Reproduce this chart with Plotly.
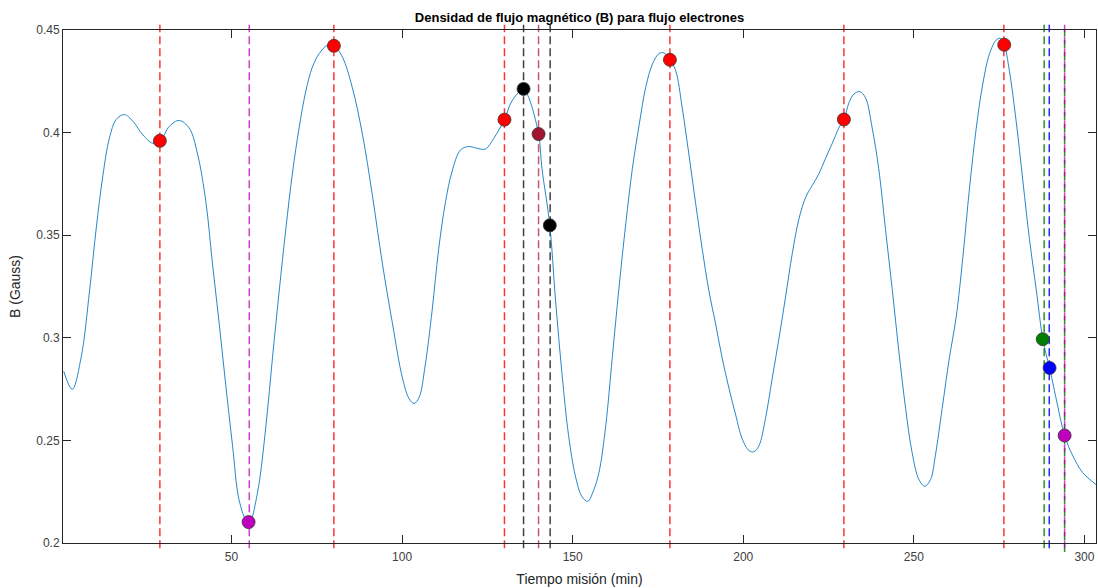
import plotly.graph_objects as go

# Curve: time (min) and B (Gauss)
t_min = [0.8, 3.3, 5.9, 8.4, 10.3, 12.3, 14.2, 16.2, 18.6, 21.1, 24.0, 26.9, 29.0, 31.8, 34.7,
         37.6, 40.1, 42.5, 44.4, 46.4, 48.3, 50.3, 52.2, 54.5, 55.2, 57.6, 60.1, 62.0, 64.0,
         65.9, 67.9, 69.8, 71.8, 73.7, 75.7, 78.1, 80.0, 82.5, 85.4, 88.4, 91.3, 94.2, 97.2,
         100.1, 102.0, 103.5, 105.0, 106.8, 108.8, 110.7, 112.7, 114.6, 117.1, 119.5, 121.9,
         124.4, 126.9, 130.0, 132.2, 135.6, 137.1, 140.0, 141.0, 143.3, 144.9, 146.9, 148.8,
         150.8, 152.7, 154.4, 156.2, 157.7, 159.7, 161.6, 163.6, 165.6, 167.5, 169.5, 171.4,
         173.4, 175.3, 176.8, 178.5, 180.2, 182.1, 184.1, 186.0, 188.0, 189.9, 191.9, 193.8,
         195.8, 197.8, 199.7, 201.7, 203.1, 204.6, 206.5, 208.5, 210.4, 212.4, 214.4, 216.3,
         218.3, 220.2, 222.2, 224.1, 226.1, 228.0, 229.5, 231.0, 232.4, 234.1, 235.8, 237.8,
         239.7, 241.7, 243.7, 245.6, 247.6, 249.5, 251.5, 253.2, 254.9, 256.3, 258.3, 260.4,
         262.4, 264.4, 266.3, 268.3, 270.2, 272.2, 274.1, 275.3, 276.5, 278.0, 280.0, 282.0,
         283.9, 285.9, 287.8, 288.8, 289.8, 291.7, 294.2, 296.6, 299.5, 303.4]
b_gauss = [0.2837, 0.2749, 0.2903, 0.3232, 0.3528, 0.3792, 0.3973, 0.4064, 0.4088, 0.4055,
           0.3989, 0.3948, 0.3957, 0.4031, 0.4059, 0.4022, 0.3891, 0.3660, 0.3364, 0.3067,
           0.2771, 0.2474, 0.2211, 0.2100, 0.2092, 0.2244, 0.2573, 0.2903, 0.3232, 0.3528,
           0.3808, 0.4022, 0.4204, 0.4319, 0.4385, 0.4426, 0.4426, 0.4368, 0.4220, 0.3989,
           0.3693, 0.3364, 0.3067, 0.2804, 0.2705, 0.2680, 0.2710, 0.2870, 0.3133, 0.3430,
           0.3660, 0.3808, 0.3915, 0.3932, 0.3924, 0.3920, 0.3973, 0.4064, 0.4154, 0.4212,
           0.4171, 0.3993, 0.3825, 0.3548, 0.3199, 0.2820, 0.2524, 0.2326, 0.2227, 0.2203,
           0.2260, 0.2343, 0.2573, 0.2903, 0.3248, 0.3561, 0.3825, 0.4039, 0.4220, 0.4335,
           0.4385, 0.4388, 0.4357, 0.4302, 0.4121, 0.3890, 0.3660, 0.3430, 0.3232, 0.3067,
           0.2903, 0.2755, 0.2623, 0.2507, 0.2450, 0.2445, 0.2474, 0.2606, 0.2804, 0.2990,
           0.3199, 0.3414, 0.3578, 0.3685, 0.3742, 0.3800, 0.3874, 0.3948, 0.4022, 0.4064,
           0.4146, 0.4187, 0.4200, 0.4171, 0.4022, 0.3825, 0.3528, 0.3232, 0.2935, 0.2655,
           0.2440, 0.2309, 0.2277, 0.2309, 0.2425, 0.2655, 0.2900, 0.3100, 0.3397, 0.3726,
           0.4022, 0.4236, 0.4385, 0.4450, 0.4460, 0.4428, 0.4302, 0.4055, 0.3759, 0.3480,
           0.3232, 0.2993, 0.2919, 0.2853, 0.2705, 0.2524, 0.2425, 0.2343, 0.2285]

# Event markers (time, B) and vertical event lines by colour
red_t = [29.0, 80.0, 130.0, 178.5, 229.5, 276.5]
red_b = [0.3960, 0.4423, 0.4063, 0.4355, 0.4064, 0.4428]
mag_t = [55.0, 294.2]
mag_b = [0.2102, 0.2524]
blk_t = [135.6, 143.3]
blk_b = [0.4213, 0.3548]
dred_t = [140.0]
dred_b = [0.3993]
grn_t = [287.8]
grn_b = [0.2993]
blu_t = [289.8]
blu_b = [0.2853]

red_lines = [29.0, 80.0, 130.0, 178.5, 229.5, 276.4]
mag_lines = [55.2, 294.2]
blk_lines = [135.6, 143.4]
dred_lines = [140.0]
grn_lines = [288.2, 294.2]
blu_lines = [289.7]

x_ticks = [50, 100, 150, 200, 250, 300]
y_ticks = [0.2, 0.25, 0.3, 0.35, 0.4, 0.45]

fig = go.Figure()

shapes = []
def vlines(xs, color, y0=-0.01, y1=1.01):
    for xv in xs:
        shapes.append(dict(type="line", xref="x", yref="paper", x0=xv, x1=xv, y0=y0, y1=y1,
                           line=dict(color=color, width=1.5, dash="8px,4px"), layer="below"))

vlines(red_lines, "rgba(255,0,0,0.8)")
vlines(blk_lines, "rgba(0,0,0,0.75)")
vlines(dred_lines, "rgba(162,20,47,0.7)")
vlines([grn_lines[0]], "rgba(0,128,0,0.85)")
vlines([grn_lines[1]], "rgba(0,128,0,0.85)", y0=-0.0175, y1=1.0)
vlines(blu_lines, "rgba(0,0,255,0.85)")
vlines(mag_lines, "rgba(191,0,191,0.75)")

fig.add_trace(go.Scatter(x=t_min, y=b_gauss, mode="lines",
                         line=dict(color="rgba(0,114,189,0.85)", width=1.0, shape="spline", smoothing=1.0),
                         showlegend=False, hoverinfo="skip"))

def markers(xs, ys, color):
    fig.add_trace(go.Scatter(x=xs, y=ys, mode="markers",
                             marker=dict(size=13, color=color, line=dict(color="#333333", width=0.8)),
                             showlegend=False, cliponaxis=False))

markers(red_t, red_b, "#FF0000")
markers(mag_t, mag_b, "#BF00BF")
markers(blk_t, blk_b, "#000000")
markers(dred_t, dred_b, "#A2142F")
markers(grn_t, grn_b, "#007F00")
markers(blu_t, blu_b, "#0000FF")

axis_common = dict(showline=True, linecolor="#262626", linewidth=1, mirror="ticks",
                   ticks="inside", ticklen=8, tickcolor="#262626", tickwidth=1,
                   showgrid=False, zeroline=False,
                   tickfont=dict(family="Liberation Sans, Arial, sans-serif", size=12, color="#404040"))

fig.update_layout(
    width=1098, height=588,
    margin=dict(l=63, r=2, t=30, b=45),
    paper_bgcolor="white", plot_bgcolor="white",
    title=dict(text="<b>Densidad de flujo magnético (B) para flujo electrones</b>",
               x=0.5278, xanchor="center", y=0.971, yanchor="middle",
               font=dict(family="Liberation Sans, Arial, sans-serif", size=13, color="#000000")),
    xaxis=dict(range=[0.6, 303.4], tickvals=x_ticks, ticklabelstandoff=3,
               title=dict(text="Tiempo misión (min)", standoff=10,
                          font=dict(family="Liberation Sans, Arial, sans-serif", size=14, color="#262626")),
               **axis_common),
    yaxis=dict(range=[0.2, 0.45], tickvals=y_ticks,
               title=dict(text="B (Gauss)", standoff=12,
                          font=dict(family="Liberation Sans, Arial, sans-serif", size=14, color="#262626")),
               **axis_common),
    shapes=shapes,
)

# Remove the default 8px page margin so the 1098x588 figure fills the window exactly.
fig.write_html("out.html", config={"displayModeBar": False},
               post_script="document.body.style.margin='0';document.body.style.overflow='hidden';")
